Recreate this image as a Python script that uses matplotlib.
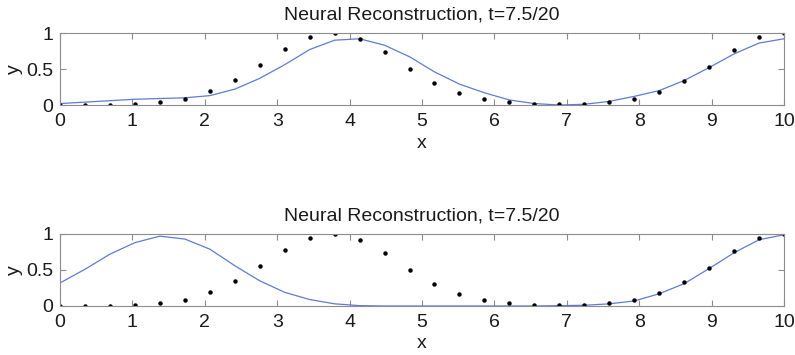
import numpy as np
import matplotlib
matplotlib.use("Agg")
import matplotlib.pyplot as plt

# ── data ────────────────────────────────────────────────────────────
x_pts = np.linspace(0, 10, 30)

target = [0.00, 0.00, 0.00, 0.01, 0.04, 0.09, 0.19, 0.35, 0.56, 0.78,
          0.94, 1.00, 0.92, 0.73, 0.50, 0.30, 0.16, 0.08, 0.04, 0.02,
          0.01, 0.02, 0.04, 0.08, 0.18, 0.33, 0.53, 0.76, 0.94, 1.00]

recon_top = [0.02, 0.04, 0.06, 0.08, 0.09, 0.10, 0.13, 0.22, 0.37, 0.56,
             0.77, 0.90, 0.92, 0.83, 0.67, 0.46, 0.29, 0.17, 0.07, 0.02,
             0.00, 0.01, 0.05, 0.12, 0.20, 0.34, 0.52, 0.71, 0.86, 0.92]

recon_bottom = [0.32, 0.51, 0.72, 0.88, 0.97, 0.93, 0.79, 0.56, 0.35, 0.19,
                0.09, 0.03, 0.005, 0.0, 0.0, 0.0, 0.0, 0.0, 0.0, 0.0,
                0.005, 0.01, 0.03, 0.07, 0.17, 0.31, 0.52, 0.74, 0.92, 0.99]

title = "Neural Reconstruction, t=7.5/20"
x_ticks = list(range(0, 11))
y_ticks = [0, 0.5, 1]
y_tick_labels = ["0", "0.5", "1"]

# ── style ──────────────────────────────────────────────────────────
plt.rcParams['font.family'] = ['Liberation Sans', 'DejaVu Sans']
LINE_COL = '#5f7cd0'
FRAME_COL = '#8c8c8c'
TXT_COL = '#1a1a1a'

fig = plt.figure(figsize=(7.95, 3.55), dpi=100)
W, H = 795, 355
boxes = [(60, 33, 724, 72), (60, 234, 724, 72)]   # left, top, width, height (px)

for (l, t, w, h), recon in zip(boxes, [recon_top, recon_bottom]):
    ax = fig.add_axes([l / W, 1 - (t + h) / H, w / W, h / H])
    ax.plot(x_pts, recon, color=LINE_COL, linewidth=0.9)
    ax.plot(x_pts, target, 'o', color='black', markersize=2.2)
    ax.set_xlim(0, 10)
    ax.set_ylim(0, 1)
    ax.set_xticks(x_ticks)
    ax.set_yticks(y_ticks)
    ax.set_yticklabels(y_tick_labels)
    ax.tick_params(direction='in', top=True, right=True, length=4,
                   color=FRAME_COL, labelsize=14, labelcolor=TXT_COL)
    ax.tick_params(axis='x', pad=6)
    ax.tick_params(axis='y', pad=5)
    for s in ax.spines.values():
        s.set_color(FRAME_COL)
        s.set_linewidth(0.8)
    ax.set_title(title, fontsize=14, color=TXT_COL, pad=10)
    ax.set_xlabel('x', fontsize=14, color=TXT_COL, labelpad=3)
    ax.set_ylabel('y', fontsize=14, color=TXT_COL, labelpad=2)

plt.savefig('out.png', dpi=100)
